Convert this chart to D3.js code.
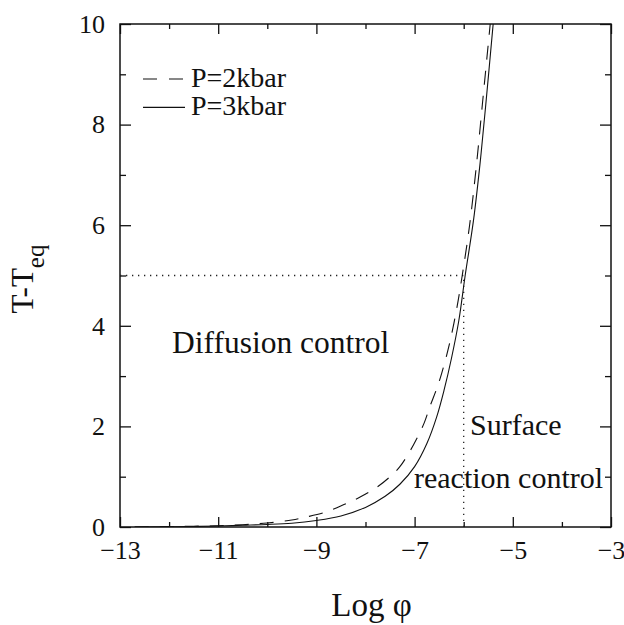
<!DOCTYPE html>
<html>
<head>
<meta charset="utf-8">
<script src="https://cdn.jsdelivr.net/npm/d3@7"></script>
<style>
  body { margin: 0; background: #fff; }
  svg text { font-family: "Liberation Serif", "Times New Roman", serif; fill: #111; }
</style>
</head>
<body>
<div id="chart"></div>
<script>
// data
var logPhi3 = [-12.7, -12, -11.5, -11, -10.5, -10, -9.5, -9, -8.5, -8, -7.6, -7.3, -7, -6.75, -6.55, -6.4, -6.25, -6.1, -5.97, -5.8, -5.67, -5.55, -5.4];
var dT3     = [0, 0.005, 0.01, 0.02, 0.035, 0.05, 0.075, 0.13, 0.22, 0.39, 0.61, 0.85, 1.2, 1.66, 2.19, 2.72, 3.35, 4.1, 5.0, 6.1, 7.2, 8.4, 10];

var logPhi2 = [-12.7, -12, -11.5, -11, -10.5, -10, -9.5, -9.2, -8.8, -8.45, -8.1, -7.77, -7.5, -7.3, -7.1, -6.96, -6.8, -6.69, -6.55, -6.45, -6.3, -6.15, -6.03, -5.88, -5.74, -5.62, -5.46];
var dT2     = [0, 0.007, 0.015, 0.025, 0.045, 0.08, 0.14, 0.2, 0.3, 0.44, 0.6, 0.79, 1.0, 1.2, 1.5, 1.75, 2.08, 2.39, 2.75, 3.05, 3.6, 4.3, 5.0, 6.0, 7.2, 8.4, 10];

var seriesNames = ["P=2kbar", "P=3kbar"];
var xTickLabels = [-13, -11, -9, -7, -5, -3];
var xMinorTicks = [-12, -10, -8, -6, -4];
var yTickLabels = [0, 2, 4, 6, 8, 10];
var yMinorTicks = [1, 3, 5, 7, 9];
var boundaryX = [-6];   // vertical dotted line
var boundaryY = [5];    // horizontal dotted line

var margin = {top: 24, right: 13, bottom: 98, left: 120},
    width = 624 - margin.left - margin.right,
    height = 625 - margin.top - margin.bottom;

var svg = d3.select("#chart")
  .append("svg")
    .attr("width", 624)
    .attr("height", 625)
  .append("g")
    .attr("transform", "translate(" + margin.left + "," + margin.top + ")");

var x = d3.scaleLinear().domain([-13, -3]).range([0, width]);
var y = d3.scaleLinear().domain([0, 10]).range([height, 0]);

svg.append("clipPath").attr("id", "plotclip")
  .append("rect").attr("width", width).attr("height", height);

// axes, ticks pointing inward on all four sides
function styleAxis(g) {
  g.attr("font-family", null);
  g.select(".domain").remove();
  g.selectAll(".tick line").attr("stroke", "#111").attr("stroke-width", 1.3);
  g.selectAll(".tick text").attr("font-size", 26).attr("fill", "#111");
}

svg.append("g").attr("transform", "translate(0," + height + ")")
  .call(d3.axisBottom(x).tickValues(xTickLabels).tickSize(-10).tickPadding(14).tickFormat(d3.format("d")))
  .call(styleAxis);
svg.append("g").attr("transform", "translate(0," + height + ")")
  .call(d3.axisBottom(x).tickValues(xMinorTicks).tickSize(-5).tickFormat(""))
  .call(styleAxis);
svg.append("g")
  .call(d3.axisTop(x).tickValues(xTickLabels).tickSize(-10).tickFormat(""))
  .call(styleAxis);
svg.append("g")
  .call(d3.axisTop(x).tickValues(xMinorTicks).tickSize(-5).tickFormat(""))
  .call(styleAxis);

svg.append("g")
  .call(d3.axisLeft(y).tickValues(yTickLabels).tickSize(-11).tickPadding(15).tickFormat(d3.format("d")))
  .call(styleAxis);
svg.append("g")
  .call(d3.axisLeft(y).tickValues(yMinorTicks).tickSize(-6).tickFormat(""))
  .call(styleAxis);
svg.append("g").attr("transform", "translate(" + width + ",0)")
  .call(d3.axisRight(y).tickValues(yTickLabels).tickSize(-11).tickFormat(""))
  .call(styleAxis);
svg.append("g").attr("transform", "translate(" + width + ",0)")
  .call(d3.axisRight(y).tickValues(yMinorTicks).tickSize(-6).tickFormat(""))
  .call(styleAxis);

// frame
svg.append("rect")
  .attr("width", width).attr("height", height)
  .attr("fill", "none").attr("stroke", "#111").attr("stroke-width", 1.5);

// dotted boundary lines
svg.append("line")
  .attr("x1", x(-13)).attr("x2", x(boundaryX[0]))
  .attr("y1", y(boundaryY[0])).attr("y2", y(boundaryY[0]))
  .attr("stroke", "#222").attr("stroke-width", 1.3).attr("stroke-dasharray", "1.3,4.7");
svg.append("line")
  .attr("x1", x(boundaryX[0])).attr("x2", x(boundaryX[0]))
  .attr("y1", y(0)).attr("y2", y(boundaryY[0]))
  .attr("stroke", "#222").attr("stroke-width", 1.3).attr("stroke-dasharray", "1.3,4.7");

// curves
var line = d3.line()
  .x(function(d) { return x(d[0]); })
  .y(function(d) { return y(d[1]); })
  .curve(d3.curveCatmullRom.alpha(0.5));

var curves = [
  {name: seriesNames[0], pts: d3.zip(logPhi2, dT2), dash: "14,11"},
  {name: seriesNames[1], pts: d3.zip(logPhi3, dT3), dash: null}
];

svg.append("g").attr("clip-path", "url(#plotclip)")
  .selectAll("path")
  .data(curves)
  .enter()
  .append("path")
    .attr("d", function(d) { return line(d.pts); })
    .attr("fill", "none")
    .attr("stroke", "#111")
    .attr("stroke-width", 1.1)
    .attr("stroke-dasharray", function(d) { return d.dash; });

// legend
var legend = svg.append("g").attr("transform", "translate(23,55)");
var items = legend.selectAll("g")
  .data(curves)
  .enter()
  .append("g")
    .attr("transform", function(d, i) { return "translate(0," + (i * 28.4) + ")"; });
items.append("line")
  .attr("x1", 0).attr("x2", 42)
  .attr("stroke", "#111").attr("stroke-width", 1.1)
  .attr("stroke-dasharray", function(d) { return d.dash ? "14,12" : null; });
items.append("text")
  .attr("x", 48).attr("y", 8)
  .attr("font-size", 28)
  .text(function(d) { return d.name; });

// region labels
svg.append("text").attr("x", 52).attr("y", 329).attr("font-size", 31.5).text("Diffusion control");
svg.append("text").attr("x", 350).attr("y", 411).attr("font-size", 30).text("Surface");
svg.append("text").attr("x", 294).attr("y", 464).attr("font-size", 30).text("reaction control");

// axis titles
svg.append("text")
  .attr("x", width / 2 + 6).attr("y", height + 89)
  .attr("text-anchor", "middle")
  .attr("font-size", 33)
  .text("Log \u03c6");

var ylab = svg.append("text")
  .attr("transform", "translate(" + (33 - margin.left) + "," + (279 - margin.top) + ") rotate(-90)")
  .attr("text-anchor", "middle")
  .attr("font-size", 31);
ylab.append("tspan").text("T-T");
ylab.append("tspan").attr("font-size", 25).attr("dy", 11).text("eq");
</script>
</body>
</html>
